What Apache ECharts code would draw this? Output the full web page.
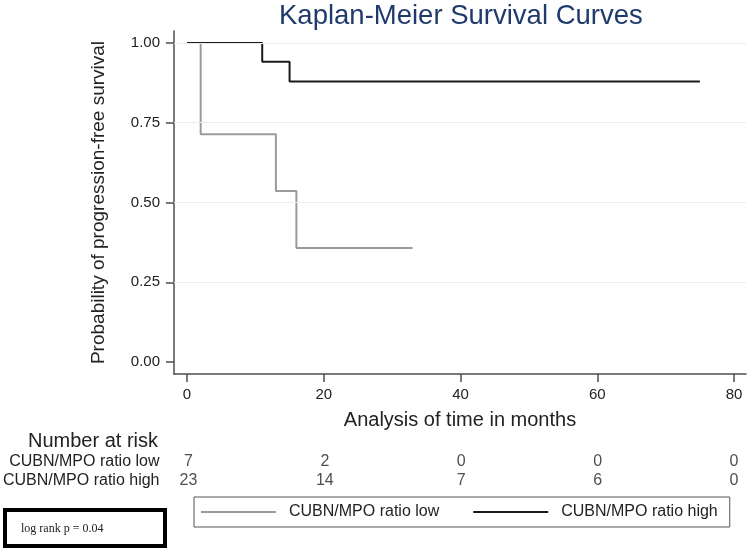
<!DOCTYPE html>
<html>
<head>
<meta charset="utf-8">
<script src="https://cdn.jsdelivr.net/npm/echarts@6/dist/echarts.min.js"></script>
<style>html,body{margin:0;padding:0;background:#fff}#c{width:749px;height:553px}</style>
</head>
<body>
<div id="c"></div>
<script>
// ---- data ----
const timeLow = [0, 2, 13, 16, 33];
const survLow = [1, 0.714, 0.536, 0.357, 0.357];
const timeHigh = [0, 11, 15, 75];
const survHigh = [1, 0.941, 0.879, 0.879];
const xTicks = [0, 20, 40, 60, 80];
const yTicks = [0, 0.25, 0.5, 0.75, 1];
const gridValues = [0.25, 0.5, 0.75, 1];
const riskTimes = [0, 20, 40, 60, 80];
const riskLow = [7, 2, 0, 0, 0];
const riskHigh = [23, 14, 7, 6, 0];
const groupLow = 'CUBN/MPO ratio low';
const groupHigh = 'CUBN/MPO ratio high';

const FONT = 'Liberation Sans, Arial, sans-serif';
const AXC = '#4d4d4d';
const X_MIN = -1.901, X_MAX = 81.75, Y_MIN = -0.0376, Y_MAX = 1.0376;

const chart = echarts.init(document.getElementById('c'), null, {renderer: 'canvas'});
const lowData = timeLow.map((t, i) => [t, survLow[i]]);
const highData = timeHigh.map((t, i) => [t, survHigh[i]]);
const riskData = [];
riskTimes.forEach((t, i) => {
  riskData.push({value: [t, 0], count: riskLow[i]});
  riskData.push({value: [t, 1], count: riskHigh[i]});
});

chart.setOption({
  animation: false,
  backgroundColor: '#fff',
  textStyle: {fontFamily: FONT},
  title: {
    text: 'Kaplan-Meier Survival Curves',
    left: 279, top: 2, padding: 0,
    textStyle: {fontFamily: FONT, fontSize: 27.5, fontWeight: 'normal', color: '#1f3a6b'}
  },
  legend: {
    data: [groupLow, groupHigh],
    left: 194, top: 497,
    padding: [7, 12, 7, 7],
    icon: 'rect',
    itemWidth: 75, itemHeight: 2, itemGap: 34,
    borderColor: '#555', borderWidth: 1,
    textStyle: {fontFamily: FONT, fontSize: 16, color: '#222', padding: [0, 0, 0, 8], lineHeight: 16}
  },
  grid: [
    {left: 174, right: 3, top: 31, bottom: 179, containLabel: false},
    {left: 174, right: 3, top: 452, height: 38, containLabel: false}
  ],
  xAxis: [
    {
      type: 'value', gridIndex: 0, min: X_MIN, max: X_MAX,
      name: 'Analysis of time in months', nameLocation: 'middle', nameGap: 36,
      nameTextStyle: {fontFamily: FONT, fontSize: 20, color: '#222'},
      axisLine: {show: true, onZero: false, lineStyle: {color: AXC, width: 1.5}},
      axisTick: {show: true, length: 8, customValues: xTicks, lineStyle: {color: AXC, width: 1.5}},
      axisLabel: {show: true, customValues: xTicks, margin: 13, fontSize: 15, color: '#222', fontFamily: FONT},
      splitLine: {show: false}
    },
    {type: 'value', gridIndex: 1, min: X_MIN, max: X_MAX, show: false}
  ],
  yAxis: [
    {
      type: 'value', gridIndex: 0, min: Y_MIN, max: Y_MAX,
      name: 'Probability of progression-free survival', nameLocation: 'middle', nameGap: 66, nameRotate: 90,
      nameTextStyle: {fontFamily: FONT, fontSize: 19, color: '#222'},
      axisLine: {show: true, onZero: false, lineStyle: {color: AXC, width: 1.5}},
      axisTick: {show: true, length: 8, customValues: yTicks, lineStyle: {color: AXC, width: 1.5}},
      axisLabel: {show: true, customValues: yTicks, margin: 14, fontSize: 15, color: '#222', fontFamily: FONT,
        formatter: v => Number(v).toFixed(2)},
      splitLine: {show: false}
    },
    {
      type: 'category', gridIndex: 1, inverse: true, data: [groupLow, groupHigh],
      axisLine: {show: false}, axisTick: {show: false},
      axisLabel: {show: true, interval: 0, margin: 16, fontSize: 16, color: '#222', fontFamily: FONT},
      splitLine: {show: false}
    }
  ],
  series: [
    {
      name: 'grid', type: 'line', xAxisIndex: 0, yAxisIndex: 0, data: [], z: 1, silent: true,
      markLine: {
        silent: true, symbol: ['none', 'none'], label: {show: false},
        lineStyle: {color: '#e4eff3', width: 1, type: 'solid'},
        emphasis: {disabled: true},
        data: gridValues.map(v => ({yAxis: v}))
      }
    },
    {
      name: groupLow, type: 'line', step: 'end', xAxisIndex: 0, yAxisIndex: 0,
      data: lowData, symbol: 'none', showSymbol: false, z: 3,
      lineStyle: {color: '#9a9a9a', width: 2}, itemStyle: {color: '#9a9a9a'}
    },
    {
      name: groupHigh, type: 'line', step: 'end', xAxisIndex: 0, yAxisIndex: 0,
      data: highData, symbol: 'none', showSymbol: false, z: 4,
      lineStyle: {color: '#1a1a1a', width: 2}, itemStyle: {color: '#1a1a1a'}
    },
    {
      name: 'risk', type: 'scatter', xAxisIndex: 1, yAxisIndex: 1,
      data: riskData, symbolSize: 1, itemStyle: {color: 'rgba(0,0,0,0)'}, silent: true,
      label: {show: true, position: 'inside', formatter: p => String(p.data.count),
        fontFamily: FONT, fontSize: 16, color: '#222'}
    }
  ],
  graphic: [
    {type: 'text', x: 158, y: 441,
      style: {text: 'Number at risk', font: '20px ' + FONT, fill: '#222', align: 'right', verticalAlign: 'middle'}},
    {type: 'rect', shape: {x: 5, y: 510, width: 160, height: 36},
      style: {fill: '#fff', stroke: '#000', lineWidth: 4}},
    {type: 'text', x: 21, y: 529,
      style: {text: 'log rank p = 0.04', font: '12px Liberation Serif, Times New Roman, serif', fill: '#222', verticalAlign: 'middle'}}
  ]
});
</script>
</body>
</html>
